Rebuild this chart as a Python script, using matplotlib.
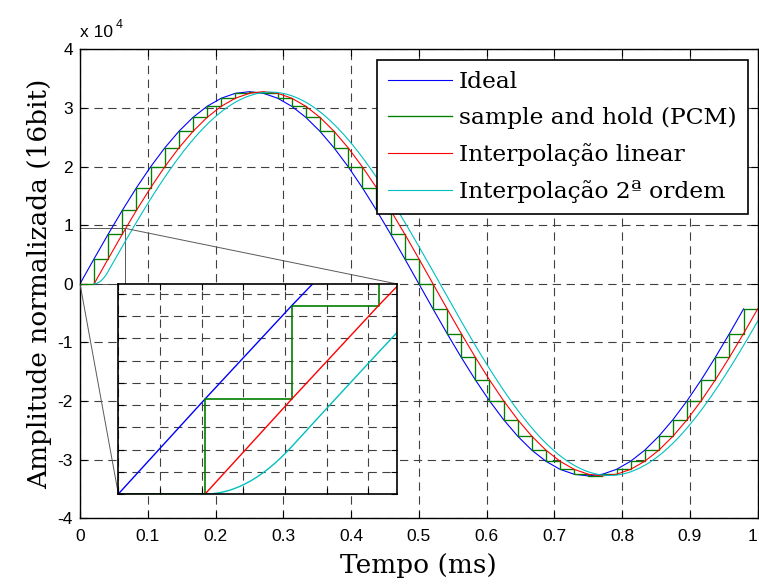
import numpy as np
import matplotlib
matplotlib.use("Agg")
import matplotlib.pyplot as plt
from mpl_toolkits.axes_grid1.inset_locator import mark_inset

plt.rcParams["font.family"] = ["Liberation Sans", "DejaVu Sans"]
plt.rcParams["lines.scale_dashes"] = False

# 16 bit samples of the 1 kHz tone, 48 kHz sample rate (one period)
fs = 48.0  # kHz -> samples per ms
quarter = [0, 4277, 8481, 12539, 16384, 19947, 23170, 25996, 28378, 30272, 31650, 32487, 32767]
samples = np.array(quarter + quarter[-2::-1] + [-v for v in quarter[1:]] + [-v for v in quarter[-2:0:-1]], dtype=float)
t_samples = np.arange(len(samples)) / fs

labels = ["Ideal", "sample and hold (PCM)", "Interpola\u00e7\u00e3o linear", "Interpola\u00e7\u00e3o 2\u00aa ordem"]
colors = ["#0000ff", "#007f00", "#ff0000", "#00bfbf"]

xticks = [0, 0.1, 0.2, 0.3, 0.4, 0.5, 0.6, 0.7, 0.8, 0.9, 1]
xticklabels = ["0", "0.1", "0.2", "0.3", "0.4", "0.5", "0.6", "0.7", "0.8", "0.9", "1"]
yticks = [-4e4, -3e4, -2e4, -1e4, 0, 1e4, 2e4, 3e4, 4e4]
yticklabels = ["-4", "-3", "-2", "-1", "0", "1", "2", "3", "4"]

# sample and hold: hold last value until t = 1 ms
t_hold = np.append(t_samples, 1.0)
s_hold = np.append(samples, samples[-1])

# linear interpolation, one sample late
t_lin = t_samples + 1 / fs

# 2nd order (quadratic B-spline) reconstruction, 1.5 samples late
padded = np.concatenate([[0.0], samples])
u = np.linspace(0, 1, 16)
t_quad, s_quad = [], []
for j in range(1, len(samples)):
    p0, p1, p2 = padded[j - 1], padded[j], padded[j + 1]
    t_quad.append((j + u) / fs)
    s_quad.append(0.5 * (1 - u) ** 2 * p0 + 0.5 * (-2 * u ** 2 + 2 * u + 1) * p1 + 0.5 * u ** 2 * p2)
t_quad = np.concatenate(t_quad)
s_quad = np.concatenate(s_quad)

serif = "DejaVu Serif"
grid_style = dict(color="0.25", linestyle=(0, (6, 4)), linewidth=0.8)


def draw_curves(a, lw):
    l1, = a.plot(t_samples, samples, color=colors[0], lw=lw)
    l2, = a.plot(t_hold, s_hold, color=colors[1], lw=lw * 1.2, drawstyle="steps-post")
    l3, = a.plot(t_lin, samples, color=colors[2], lw=lw)
    l4, = a.plot(t_quad, s_quad, color=colors[3], lw=lw)
    return [l1, l2, l3, l4]


fig = plt.figure(figsize=(7.59, 5.84), dpi=100)
ax = fig.add_axes([0.1054, 0.1125, 0.8929, 0.8031])
handles = draw_curves(ax, 0.8)
ax.set_xlim(0, 1)
ax.set_ylim(-4e4, 4e4)
ax.set_xticks(xticks)
ax.set_xticklabels(xticklabels)
ax.get_xticklabels()[-1].set_horizontalalignment("right")
ax.set_yticks(yticks)
ax.set_yticklabels(yticklabels)
ax.tick_params(direction="in", top=True, right=True, length=5, width=0.8, labelsize=12.5)
ax.tick_params(axis="x", pad=8)
ax.tick_params(axis="y", pad=5)
ax.grid(True, **grid_style)
for sp in ax.spines.values():
    sp.set_linewidth(1.0)
ax.set_xlabel("Tempo (ms)", fontfamily=serif, fontsize=19, labelpad=6.5)
ax.set_ylabel("Amplitude normalizada (16bit)", fontfamily=serif, fontsize=19, labelpad=4)

fig.text(80 / 759, 1 - 37 / 584, "x 10", fontsize=12.5, va="baseline")
fig.text(116 / 759, 1 - 28 / 584, "4", fontsize=9, va="baseline")

leg = ax.legend(handles, labels, loc="upper right", bbox_to_anchor=(748 / 759, 1 - 60 / 584),
                bbox_transform=fig.transFigure, borderaxespad=0, fancybox=False, framealpha=1,
                edgecolor="k", prop={"family": serif, "size": 16.8}, handlelength=2.75,
                handletextpad=0.3, labelspacing=0.6, borderpad=0.48)
leg.get_frame().set_linewidth(1.2)

# zoomed view of the start of the signal
axins = fig.add_axes([0.1559, 0.1541, 0.3676, 0.3596])
draw_curves(axins, 1.0)
axins.set_xlim(0, 0.067)
axins.set_ylim(0, 9450)
axins.set_xticks(np.arange(0, 0.067, 0.01))
axins.set_yticks(np.arange(0, 9450, 1000))
axins.tick_params(direction="in", top=True, right=True, length=4, width=0.8,
                  labelbottom=False, labelleft=False)
axins.grid(True, **grid_style)
for sp in axins.spines.values():
    sp.set_linewidth(1.2)
mark_inset(ax, axins, loc1=3, loc2=1, fc="none", ec="0.35", lw=0.7)

fig.savefig("out.png", dpi=100)
